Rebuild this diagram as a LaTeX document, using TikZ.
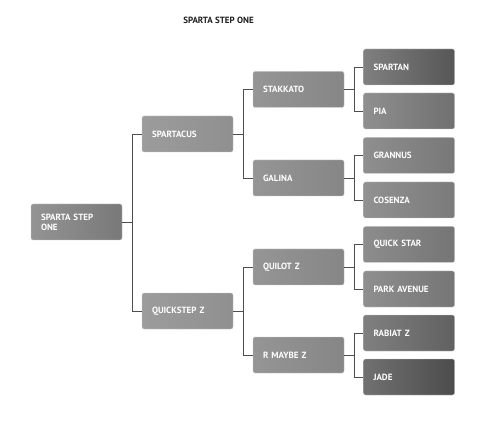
\documentclass[tikz,border=0pt]{standalone}
\usepackage{fontspec}
\setmainfont{PT Sans}
\usetikzlibrary{positioning}
\definecolor{ink}{HTML}{1E1E1E}
\definecolor{wire}{HTML}{4E4E4E}
\definecolor{lvlA}{HTML}{8E8E8E}
\definecolor{lvlB}{HTML}{9C9C9C}
\definecolor{lvlC}{HTML}{959595}
\tikzset{
  box/.style={rounded corners=2pt,minimum width=91pt,minimum height=36pt,text width=71pt,
    inner xsep=10pt,align=left,text=white,font=\fontsize{9}{10}\selectfont\bfseries,
    draw=white!80!black,line width=0.3pt},
  rootbox/.style={box,left color=lvlA!95,right color=lvlA!85!black},
  groupbox/.style={box,left color=lvlB,right color=lvlB!92!black},
  subbox/.style={box,left color=lvlC,right color=lvlC!90!black},
  leafbox/.style 2 args={box,left color=#1,right color=#2},
  title/.style={font=\fontsize{9}{10}\selectfont\bfseries,text=ink},
  wire/.style={draw=wire,line width=0.6pt},
}

\begin{document}
\begin{tikzpicture}[x=1pt,y=-1pt]
  \useasboundingbox[fill=white] (0,0) rectangle (487,430);
  \node[title] (title) at (218.5,20) {SPARTA STEP ONE};

  \node[rootbox] (root) at (76.5,222) {SPARTA STEP\\ONE};

  \node[groupbox] (spartacus) at (187.5,134) {SPARTACUS};
  \node[groupbox] (quickstep) at (187.5,311) {QUICKSTEP Z};

  \node[subbox] (stakkato) at (298.5,89.5) {STAKKATO};
  \node[subbox] (galina) at (298.5,178) {GALINA};
  \node[subbox] (quilot) at (298.5,267) {QUILOT Z};
  \node[subbox] (rmaybe) at (298.5,355) {R MAYBE Z};

  \node[leafbox={black!50}{black!66}] (spartan) at (409,67) {SPARTAN};
  \node[leafbox={black!44}{black!56}] (pia) at (409,111) {PIA};
  \node[leafbox={black!44}{black!53}] (grannus) at (409,155.5) {GRANNUS};
  \node[leafbox={black!43}{black!52}] (cosenza) at (409,200) {COSENZA};
  \node[leafbox={black!45}{black!54}] (quickstar) at (409,244.5) {QUICK STAR};
  \node[leafbox={black!44}{black!54}] (parkavenue) at (409,289) {PARK AVENUE};
  \node[leafbox={black!50}{black!62}] (rabiat) at (409,333) {RABIAT Z};
  \node[leafbox={black!56}{black!70}] (jade) at (409,377) {JADE};

  % parent -> child, elbow through a bus 10pt right of the parent
  \foreach \p/\c in {root/spartacus,root/quickstep,
      spartacus/stakkato,spartacus/galina,quickstep/quilot,quickstep/rmaybe,
      stakkato/spartan,stakkato/pia,galina/grannus,galina/cosenza,
      quilot/quickstar,quilot/parkavenue,rmaybe/rabiat,rmaybe/jade}
    \draw[wire] (\p.east) -- ++(10,0) |- (\c.west);
\end{tikzpicture}
\end{document}
